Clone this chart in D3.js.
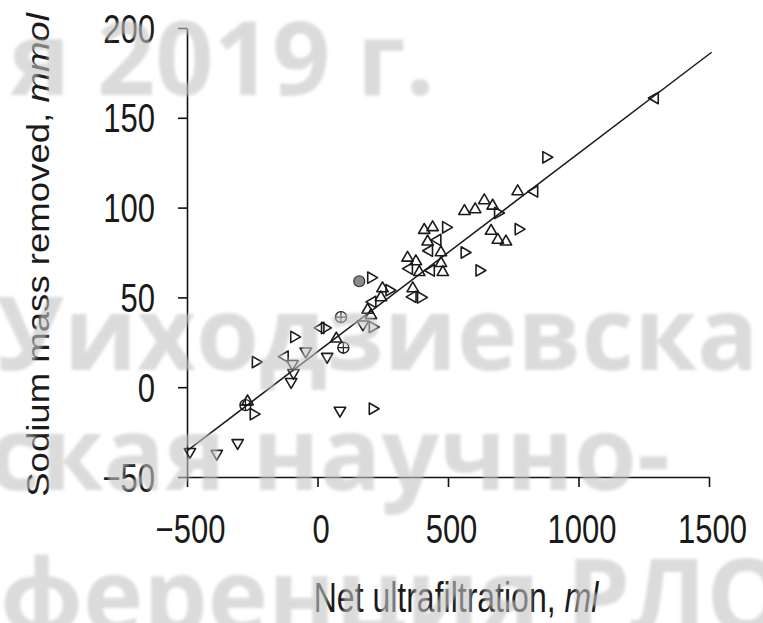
<!DOCTYPE html>
<html>
<head>
<meta charset="utf-8">
<script src="https://cdn.jsdelivr.net/npm/d3@7"></script>
<style>
  html, body { margin: 0; padding: 0; background: #fff; }
  svg { display: block; }
</style>
</head>
<body>
<svg id="chart" width="763" height="623"></svg>
<script>
// Net ultrafiltration (ml) vs sodium mass removed (mmol), one entry per session
const netUF = [
  -489, -386, -306, -276, -268, -245, -237, -125, -90, -101, -92, -96, -45,
  12, 28, 37, 90, 72, 99, 86, 211, 160, 205, 174, 211, 192, 205, 211, 243,
  249, 275, 365, 396, 365, 345, 377, 351, 390, 435, 480, 473, 473, 428, 422,
  460, 409, 441, 492, 563, 620, 563, 604, 639, 671, 691, 665, 691, 722, 770,
  767, 831, 876, 1293
];
const sodiumRemoved = [
  -36, -37, -31, -10, -8, -15, 14, 17, 28, 3, 8, 13, 20,
  33, 33, 17, 39, 27, 22, -13, -12, 59, 61, 35, 33.5, 43, 40, 47.5, 50,
  55, 54, 55, 50, 50.3, 72, 70, 66, 64, 65, 64, 69, 75, 76, 81,
  82, 87.5, 89, 89, 75, 65, 98, 99, 104, 101, 97, 87, 82, 81, 88,
  109, 109, 128, 161
];
// Marker orientation / type for each session
const markerKind = [
  "down", "down", "down", "cross", "up", "right", "right", "left", "right", "down", "down", "down", "down",
  "left", "right", "down", "cross", "up", "cross", "down", "right", "dot", "right", "down", "right", "up", "up", "left", "up",
  "up", "right", "up", "right", "left", "up", "up", "left", "up", "left", "up", "up", "up", "left", "up",
  "left", "up", "up", "right", "right", "right", "up", "up", "up", "up", "right", "up", "up", "up", "right",
  "up", "left", "right", "left"
];

// Regression line end points
const fitX = [-500, 1510];
const fitY = [-35.5, 186.5];

// Axis ticks
const xTicks = [-500, 0, 500, 1000, 1500];
const yTicks = [-50, 0, 50, 100, 150, 200];

// Background text lines
const stampLines = ["я 2019 г.", "Уиходзиевска", "ская научно-", "ференция РЛО"];

const svg = d3.select("#chart");
const FONT = "'Liberation Sans', Arial, Helvetica, sans-serif";
const STRETCH = 1.3;
const fmt = d => (d < 0 ? "\u2212" + Math.abs(d) : String(d));

const x = d3.scaleLinear().domain([-500, 1500]).range([187, 709]);
const y = d3.scaleLinear().domain([-50, 200]).range([477, 28]);

const points = netUF.map((v, i) => ({ x: v, y: sodiumRemoved[i], kind: markerKind[i] }));

// Axes
const xAxis = svg.append("g")
  .attr("transform", `translate(0,${y(-50)})`)
  .call(d3.axisBottom(x).tickValues(xTicks).tickFormat(fmt).tickSize(10).tickSizeOuter(0));
const yAxis = svg.append("g")
  .attr("transform", `translate(${x(-500)},0)`)
  .call(d3.axisLeft(y).tickValues(yTicks).tickFormat(fmt).tickSize(9).tickSizeOuter(0));

[xAxis, yAxis].forEach(g => {
  g.select(".domain").attr("stroke", "#111").attr("stroke-width", 1.6);
  g.selectAll(".tick line").attr("stroke", "#111").attr("stroke-width", 1.6);
  g.selectAll(".tick text")
    .attr("fill", "#1a1a1a")
    .style("font-family", FONT)
    .style("font-size", "31px");
});

xAxis.selectAll(".tick text")
  .attr("y", 0).attr("dy", 0)
  .attr("text-anchor", "middle")
  .attr("transform", `translate(3,66) scale(1,${STRETCH})`);

yAxis.selectAll(".tick text")
  .attr("x", 0).attr("dy", 0)
  .attr("text-anchor", "end")
  .attr("transform", `translate(-32,14) scale(1,${STRETCH})`);

// Axis titles
const xTitle = svg.append("text")
  .attr("transform", `translate(456,612) scale(1,${STRETCH})`)
  .attr("text-anchor", "middle")
  .attr("fill", "#1a1a1a")
  .style("font-family", FONT)
  .style("font-size", "32px");
xTitle.append("tspan").text("Net ultrafiltration, ");
xTitle.append("tspan").attr("font-style", "italic").text("ml");

const yTitle = svg.append("text")
  .attr("transform", `translate(49,255) rotate(-90) scale(1.18,1)`)
  .attr("text-anchor", "middle")
  .attr("fill", "#1a1a1a")
  .style("font-family", FONT)
  .style("font-size", "31px");
yTitle.append("tspan").text("Sodium mass removed, ");
yTitle.append("tspan").attr("font-style", "italic").text("mmol");

// Regression line
svg.append("path")
  .datum(fitX.map((v, i) => [v, fitY[i]]))
  .attr("fill", "none")
  .attr("stroke", "#1a1a1a")
  .attr("stroke-width", 1.5)
  .attr("d", d3.line().x(d => x(d[0])).y(d => y(d[1])));

// Markers
const rotation = { up: 0, down: 180, right: 90, left: -90 };
const tri = d3.symbol(d3.symbolTriangle, 56);
const marks = svg.append("g");

marks.selectAll("path.tri")
  .data(points.filter(d => rotation[d.kind] !== undefined))
  .join("path")
  .attr("class", "tri")
  .attr("d", tri)
  .attr("transform", d => `translate(${x(d.x)},${y(d.y)}) rotate(${rotation[d.kind]})`)
  .attr("fill", "none")
  .attr("stroke", "#1a1a1a")
  .attr("stroke-width", 1.6)
  .attr("stroke-linejoin", "round");

const crosses = marks.selectAll("g.cross")
  .data(points.filter(d => d.kind === "cross"))
  .join("g")
  .attr("class", "cross")
  .attr("transform", d => `translate(${x(d.x)},${y(d.y)})`);
crosses.append("circle").attr("r", 5.5)
  .attr("fill", "none").attr("stroke", "#1a1a1a").attr("stroke-width", 1.4);
crosses.append("path").attr("d", "M-5.5,0H5.5M0,-5.5V5.5")
  .attr("stroke", "#1a1a1a").attr("stroke-width", 1.2);

marks.selectAll("circle.dot")
  .data(points.filter(d => d.kind === "dot"))
  .join("circle")
  .attr("class", "dot")
  .attr("cx", d => x(d.x)).attr("cy", d => y(d.y)).attr("r", 5.5)
  .attr("fill", "#8a8a8a").attr("stroke", "#333").attr("stroke-width", 1.2);

// Grey stamp text laid over the chart
const defs = svg.append("defs");
defs.append("filter").attr("id", "soft")
  .append("feGaussianBlur").attr("stdDeviation", 1.6);

const stampPos = [[10, 95], [-4, 370], [-12, 490], [0, 632]];
svg.append("g")
  .attr("filter", "url(#soft)")
  .attr("opacity", 0.6)
  .selectAll("text")
  .data(stampLines)
  .join("text")
  .attr("x", (d, i) => stampPos[i][0])
  .attr("y", (d, i) => stampPos[i][1])
  .attr("fill", "#c4c4c4")
  .style("font-family", "'Open Sans', 'DejaVu Sans', sans-serif")
  .style("font-weight", 700)
  .style("font-size", "102px")
  .text(d => d);
</script>
</body>
</html>
